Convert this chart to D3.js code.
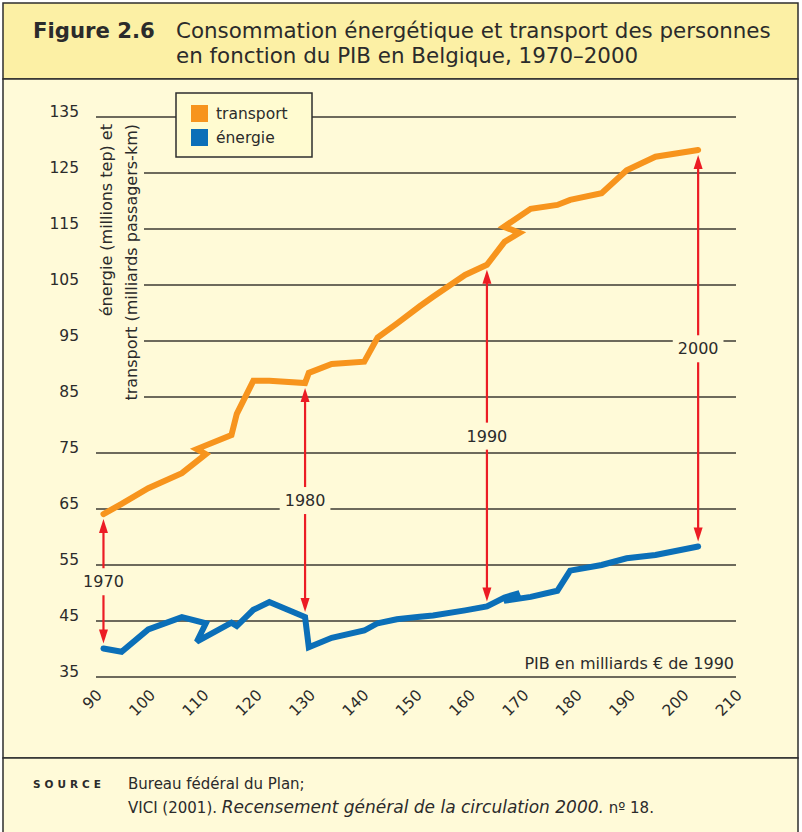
<!DOCTYPE html>
<html>
<head>
<meta charset="utf-8">
<script src="https://cdn.jsdelivr.net/npm/d3@7"></script>
<style>
  body { margin: 0; background: #fff; }
  svg text { font-family: "DejaVu Sans", Verdana, sans-serif; fill: #2b2b2b; }
</style>
</head>
<body>
<svg id="chart" width="802" height="832"></svg>
<script>
// PIB (milliards EUR de 1990), one entry per plotted year
const pib = [91.4, 94.8, 99.8, 106.1, 110.6, 108.9, 115.4, 116.4, 119.5, 122.5,
             129.2, 129.9, 134.2, 140.3, 142.8, 146.4, 150.7, 153.2, 159.2, 163.3,
             166.6, 169.4, 166.5, 171.5, 176.5, 178.9, 184.8, 189.5, 194.9, 202.9];

// transport des personnes (milliards passagers-km)
const transport = [64.1, 65.9, 68.7, 71.4, 74.8, 75.7, 78.2, 82.0, 87.9, 87.9,
                   87.5, 89.3, 90.9, 91.3, 95.6, 98.1, 101.2, 102.9, 106.8, 108.6,
                   112.7, 114.3, 115.4, 118.6, 119.3, 120.2, 121.4, 125.5, 127.9, 129.1];

// consommation energetique (millions tep)
const energie = [40.1, 39.5, 43.5, 45.7, 44.6, 41.3, 44.7, 44.1, 47.0, 48.4,
                 45.7, 40.3, 42.0, 43.3, 44.6, 45.3, 45.75, 46.0, 46.9, 47.6,
                 49.2, 50.0, 48.6, 49.3, 50.4, 54.0, 55.0, 56.2, 56.8, 58.3];

// years marked with an arrow and the index of that year in the arrays
const markYears = ["1970", "1980", "1990", "2000"];
const markIndex = [0, 10, 19, 29];

const yTicks = [35, 45, 55, 65, 75, 85, 95, 105, 115, 125, 135];
const xTicks = [90, 100, 110, 120, 130, 140, 150, 160, 170, 180, 190, 200, 210];

const COLORS = {
  ORANGE: "#f7941d",
  BLUE: "#0b6fb8",
  RED: "#ec1c24",
  GRID: "#3d3a33",
  HEAD: "#fcf0a5",
  BODY: "#fffad8",
  BORDER: "#2e2e2e"
};

let svg = d3.select("#chart");

// Frame: header, plot body, source box
svg.append("rect")
   .attr("x", 3).attr("y", 3).attr("width", 795).attr("height", 76)
   .style("fill", COLORS.HEAD).style("stroke", COLORS.BORDER).style("stroke-width", 1.5);

svg.append("rect")
   .attr("x", 3).attr("y", 79).attr("width", 795).attr("height", 679)
   .style("fill", COLORS.BODY).style("stroke", COLORS.BORDER).style("stroke-width", 1.5);

svg.append("rect")
   .attr("x", 3).attr("y", 758).attr("width", 795).attr("height", 80)
   .style("fill", COLORS.BODY).style("stroke", COLORS.BORDER).style("stroke-width", 1.5);

// Title
svg.append("text")
   .attr("x", 33).attr("y", 38)
   .style("font-size", "21.2px").style("font-weight", "bold")
   .text("Figure 2.6");

let title = svg.append("text")
               .attr("x", 176).attr("y", 38)
               .style("font-size", "21.4px");
title.append("tspan").attr("x", 176).text("Consommation énergétique et transport des personnes");
title.append("tspan").attr("x", 176).attr("dy", 25).text("en fonction du PIB en Belgique, 1970–2000");

// Scales
let x = d3.scaleLinear().domain([90, 210]).range([96, 736]);
let y = d3.scaleLinear().domain([35, 135]).range([677, 117]);

let plot = svg.append("g");

// Gridlines
plot.selectAll("line.grid")
    .data(yTicks)
    .join("line")
    .attr("class", "grid")
    .attr("x1", x(90)).attr("x2", x(210))
    .attr("y1", d => y(d)).attr("y2", d => y(d))
    .style("stroke", COLORS.GRID)
    .style("stroke-width", 1.4);

// Y tick labels
plot.selectAll("text.ytick")
    .data(yTicks)
    .join("text")
    .attr("class", "ytick")
    .attr("x", 79)
    .attr("y", d => y(d))
    .attr("text-anchor", "end")
    .style("font-size", "15.5px")
    .text(d => d);

// X tick labels, rotated
plot.selectAll("text.xtick")
    .data(xTicks)
    .join("text")
    .attr("class", "xtick")
    .attr("text-anchor", "end")
    .attr("transform", d => `translate(${x(d) + 7},${y(35) + 19}) rotate(-45)`)
    .style("font-size", "15.5px")
    .text(d => d);

// Y axis title, with a patch of background to break the gridlines
let yTitle = plot.append("g");
yTitle.append("text")
      .attr("text-anchor", "end")
      .attr("transform", `translate(112,124) rotate(-90)`)
      .style("font-size", "16px")
      .text("énergie (millions tep) et");
let yt2 = yTitle.append("text")
                .attr("text-anchor", "end")
                .attr("transform", `translate(137,124) rotate(-90)`)
                .style("font-size", "16px")
                .text("transport (milliards passagers-km)");
let b2 = yt2.node().getBBox();
yTitle.insert("rect", "text")
      .attr("x", 94).attr("y", 121)
      .attr("width", 50).attr("height", b2.width + 10)
      .style("fill", COLORS.BODY);

// X axis title
plot.append("text")
    .attr("x", x(210) - 2).attr("y", y(35) - 8)
    .attr("text-anchor", "end")
    .style("font-size", "16px")
    .text("PIB en milliards € de 1990");

// Arrows between the two series
let arrows = plot.append("g");
markYears.forEach((year, k) => {
  let i = markIndex[k];
  let ax = x(pib[i]);
  let top = y(transport[i]) + 5;
  let bottom = y(energie[i]) - 5;
  let headLen = 14, headHalf = 4.5;

  arrows.append("line")
        .attr("x1", ax).attr("x2", ax)
        .attr("y1", top + headLen - 2).attr("y2", bottom - headLen + 2)
        .style("stroke", COLORS.RED)
        .style("stroke-width", 2.2);

  arrows.append("path")
        .attr("d", `M${ax},${top} L${ax - headHalf},${top + headLen} L${ax + headHalf},${top + headLen} Z`)
        .style("fill", COLORS.RED);
  arrows.append("path")
        .attr("d", `M${ax},${bottom} L${ax - headHalf},${bottom - headLen} L${ax + headHalf},${bottom - headLen} Z`)
        .style("fill", COLORS.RED);
});

// Series lines
let line = d3.line()
             .x((d, i) => x(pib[i]))
             .y(d => y(d));

plot.append("path")
    .datum(transport)
    .attr("d", line)
    .style("fill", "none")
    .style("stroke", COLORS.ORANGE)
    .style("stroke-width", 6)
    .style("stroke-linejoin", "miter")
    .style("stroke-miterlimit", 3)
    .style("stroke-linecap", "round");

plot.append("path")
    .datum(energie)
    .attr("d", line)
    .style("fill", "none")
    .style("stroke", COLORS.BLUE)
    .style("stroke-width", 6)
    .style("stroke-linejoin", "miter")
    .style("stroke-miterlimit", 3)
    .style("stroke-linecap", "round");

// Year labels, centred on the arrows
markYears.forEach((year, k) => {
  let i = markIndex[k];
  let ax = x(pib[i]);
  let mid = (y(transport[i]) + y(energie[i])) / 2;
  let g = plot.append("g");
  let t = g.append("text")
           .attr("x", ax).attr("y", mid + 6)
           .attr("text-anchor", "middle")
           .style("font-size", "16px")
           .text(year);
  let bb = t.node().getBBox();
  g.insert("rect", "text")
   .attr("x", bb.x - 5).attr("y", bb.y - 4)
   .attr("width", bb.width + 10).attr("height", bb.height + 8)
   .style("fill", COLORS.BODY);
});

// Legend
let legend = svg.append("g").attr("transform", "translate(176,93)");
legend.append("rect")
      .attr("width", 136).attr("height", 64)
      .style("fill", "#fffbd0")
      .style("stroke", COLORS.BORDER)
      .style("stroke-width", 1.5);

let legendItems = [["transport", COLORS.ORANGE], ["énergie", COLORS.BLUE]];
legendItems.forEach(([label, color], k) => {
  legend.append("rect")
        .attr("x", 15).attr("y", 12 + k * 24)
        .attr("width", 17).attr("height", 17)
        .style("fill", color);
  legend.append("text")
        .attr("x", 40).attr("y", 26 + k * 24)
        .style("font-size", "15.5px")
        .text(label);
});

// Source
svg.append("text")
   .attr("x", 33).attr("y", 788)
   .style("font-size", "10.5px").style("font-weight", "bold")
   .style("letter-spacing", "4px")
   .text("SOURCE");

svg.append("text")
   .attr("x", 128).attr("y", 789)
   .style("font-size", "15px")
   .text("Bureau fédéral du Plan;");

let src = svg.append("text")
             .attr("x", 128).attr("y", 813)
             .style("font-size", "15px");
src.append("tspan").text("VICI (2001). ");
src.append("tspan").style("font-style", "italic").style("font-size", "17px").text("Recensement général de la circulation 2000.");
src.append("tspan").text(" nº 18.");
</script>
</body>
</html>
